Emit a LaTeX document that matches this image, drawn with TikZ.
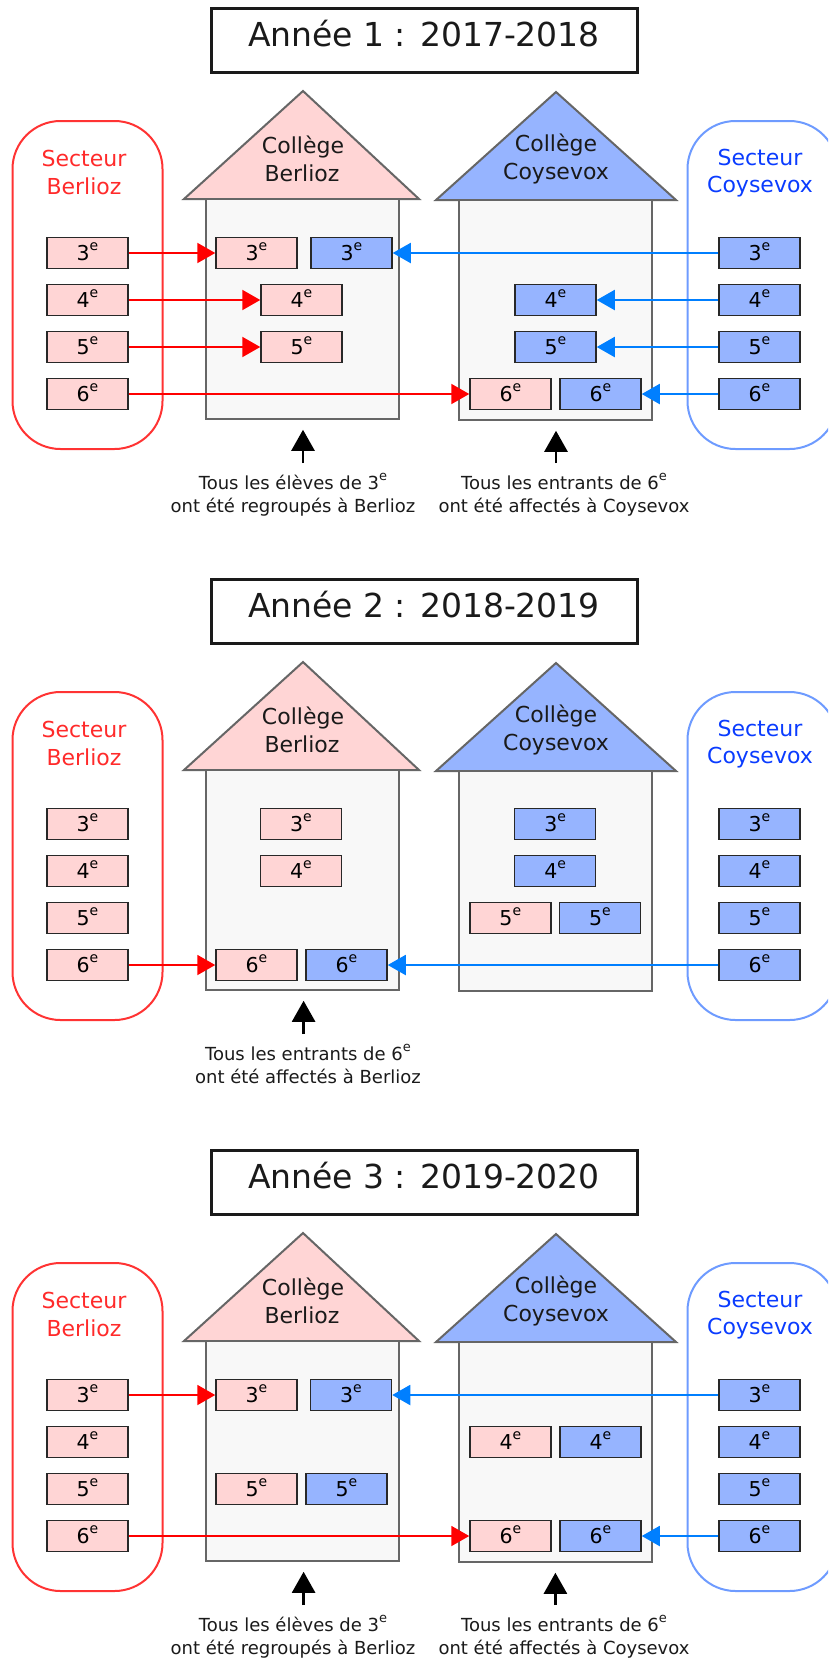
\documentclass[tikz,border=0pt]{standalone}
\usepackage{fontspec}
\setmainfont{DejaVu Sans}
\usetikzlibrary{arrows.meta}
\definecolor{pinkfill}{RGB}{255,213,213}
\definecolor{bluefill}{RGB}{150,180,255}
\definecolor{redline}{RGB}{255,0,0}
\definecolor{redsec}{RGB}{255,51,51}
\definecolor{redtxt}{RGB}{255,42,42}
\definecolor{blueline}{RGB}{0,127,255}
\definecolor{bluesec}{RGB}{110,155,255}
\definecolor{bluetxt}{RGB}{10,60,255}
\definecolor{bodyfill}{RGB}{248,248,248}
\definecolor{graystroke}{RGB}{102,102,102}
\definecolor{darkstroke}{RGB}{40,40,40}
\definecolor{txtdark}{RGB}{26,26,26}
\newcommand{\myE}{\raisebox{9.5pt}{\fontsize{14}{14}\selectfont e}}
\newcommand{\myEs}{\raisebox{8.5pt}{\fontsize{13}{13}\selectfont e}}
\tikzset{
 titlebox/.style={draw=txtdark, line width=3pt, minimum width=426pt, minimum height=64pt, inner sep=0pt, font=\fontsize{33}{39}\selectfont, text=txtdark, text height=20.5pt, text depth=7.1pt},
 secR/.style={draw=redsec, line width=2pt, rounded corners=48pt, minimum width=150pt, minimum height=328pt, inner sep=0pt},
 secB/.style={secR, draw=bluesec},
 sectxt/.style={anchor=base, inner sep=0pt, font=\fontsize{22}{26}\selectfont},
 roof/.style={draw=graystroke, line width=2pt, line join=miter},
 body/.style={draw=graystroke, fill=bodyfill, line width=1.5pt, minimum width=193pt, minimum height=220pt, inner sep=0pt},
 cls/.style={draw=darkstroke, line width=1.5pt, minimum width=81pt, minimum height=31pt, inner sep=0pt, font=\fontsize{20.5}{24}\selectfont, text=black, text height=15pt, text depth=1pt},
 pk/.style={cls, fill=pinkfill},
 bl/.style={cls, fill=bluefill},
 rarr/.style={draw=redline, line width=2pt, -{Triangle[length=18pt,width=20pt]}},
 barr/.style={draw=blueline, line width=2pt, -{Triangle[length=18pt,width=20pt]}},
 uarr/.style={draw=black, line width=2.5pt, -{Triangle[length=21pt,width=23pt]}, shorten >=10pt},
 note/.style={anchor=base, inner sep=0pt, font=\fontsize{18}{22}\selectfont, text=txtdark}
}
\newcommand{\basepanel}[2]{%
 \node[titlebox] (title#1) at (424,40) {#2};
 \node[secR] (sb#1) at (87.5,285) {};
 \node[sectxt, text=redtxt] (sbt#1a) at (84,166.7) {Secteur};
 \node[sectxt, text=redtxt] (sbt#1b) at (84,194.4) {Berlioz};
 \node[secB] (sc#1) at (762.5,285) {};
 \node[sectxt, text=bluetxt] (sct#1a) at (760,165) {Secteur};
 \node[sectxt, text=bluetxt] (sct#1b) at (760,192.7) {Coysevox};
 \draw[roof, fill=pinkfill] (184,199) -- (303,91) -- (419,199) -- cycle;
 \node[body] (hb#1) at (302.5,309) {};
 \draw[roof, fill=bluefill] (436,200) -- (556,92) -- (676,200) -- cycle;
 \node[body] (hc#1) at (555.5,310) {};
 \node[sectxt, text=txtdark] (cb#1a) at (303,153.3) {Collège};
 \node[sectxt, text=txtdark] (cb#1b) at (302,181) {Berlioz};
 \node[sectxt, text=txtdark] (cc#1a) at (556,151.7) {Collège};
 \node[sectxt, text=txtdark] (cc#1b) at (556,179.3) {Coysevox};
 \node[pk] (L#1r3) at (87.5,253) {3\myE};
 \node[pk] (L#1r4) at (87.5,300) {4\myE};
 \node[pk] (L#1r5) at (87.5,347) {5\myE};
 \node[pk] (L#1r6) at (87.5,394) {6\myE};
 \node[bl] (R#1r3) at (759.5,253) {3\myE};
 \node[bl] (R#1r4) at (759.5,300) {4\myE};
 \node[bl] (R#1r5) at (759.5,347) {5\myE};
 \node[bl] (R#1r6) at (759.5,394) {6\myE};
}
\begin{document}
\begin{tikzpicture}[x=1pt,y=-1pt]
\clip (0,0) rectangle (828,1658);
% ---------- Panel 1
\begin{scope}
\basepanel{1}{Année 1 : 2017-2018}
\node[pk] (B1p3) at (256.5,253) {3\myE};
\node[bl] (B1b3) at (351.5,253) {3\myE};
\node[pk] (B1p4) at (301.5,300) {4\myE};
\node[pk] (B1p5) at (301.5,347) {5\myE};
\node[bl] (C1b4) at (555.5,300) {4\myE};
\node[bl] (C1b5) at (555.5,347) {5\myE};
\node[pk] (C1p6) at (510.5,394) {6\myE};
\node[bl] (C1b6) at (600.5,394) {6\myE};
\draw[rarr] (L1r3.east) -- (B1p3.west);
\draw[rarr] (L1r4.east) -- (B1p4.west);
\draw[rarr] (L1r5.east) -- (B1p5.west);
\draw[rarr] (L1r6.east) -- (C1p6.west);
\draw[barr] (R1r3.west) -- (B1b3.east);
\draw[barr] (R1r4.west) -- (C1b4.east);
\draw[barr] (R1r5.west) -- (C1b5.east);
\draw[barr] (R1r6.west) -- (C1b6.east);
\coordinate (ua1) at (303,463);
\draw[uarr] (ua1) -- (ua1 |- hb1.south);
\node[note] (n1a) at (293,489) {Tous les élèves de 3\myEs};
\node[note] (n1b) at (293,512) {ont été regroupés à Berlioz};
\coordinate (ub1) at (556,463);
\draw[uarr] (ub1) -- (ub1 |- hc1.south);
\node[note] (n1c) at (564,489) {Tous les entrants de 6\myEs};
\node[note] (n1d) at (564,512) {ont été affectés à Coysevox};
\end{scope}
% ---------- Panel 2
\begin{scope}[yshift=-571pt]
\basepanel{2}{Année 2 : 2018-2019}
\node[pk] (B2p3) at (301,253) {3\myE};
\node[pk] (B2p4) at (301,300) {4\myE};
\node[pk] (B2p6) at (256.5,394) {6\myE};
\node[bl] (B2b6) at (346.5,394) {6\myE};
\node[bl] (C2b3) at (555.2,253) {3\myE};
\node[bl] (C2b4) at (555.2,300) {4\myE};
\node[pk] (C2p5) at (510.3,347) {5\myE};
\node[bl] (C2b5) at (600,347) {5\myE};
\draw[rarr] (L2r6.east) -- (B2p6.west);
\draw[barr] (R2r6.west) -- (B2b6.east);
\coordinate (ua2) at (303.6,463);
\draw[uarr] (ua2) -- (ua2 |- hb2.south);
\node[note] (n2a) at (308,489) {Tous les entrants de 6\myEs};
\node[note] (n2b) at (308,512) {ont été affectés à Berlioz};
\end{scope}
% ---------- Panel 3
\begin{scope}[yshift=-1142pt]
\basepanel{3}{Année 3 : 2019-2020}
\node[pk] (B3p3) at (256.5,253) {3\myE};
\node[bl] (B3b3) at (351,253) {3\myE};
\node[pk] (B3p5) at (256.5,347) {5\myE};
\node[bl] (B3b5) at (346.5,347) {5\myE};
\node[pk] (C3p4) at (510.5,300) {4\myE};
\node[bl] (C3b4) at (600.5,300) {4\myE};
\node[pk] (C3p6) at (510.5,394) {6\myE};
\node[bl] (C3b6) at (600.5,394) {6\myE};
\draw[rarr] (L3r3.east) -- (B3p3.west);
\draw[rarr] (L3r6.east) -- (C3p6.west);
\draw[barr] (R3r3.west) -- (B3b3.east);
\draw[barr] (R3r6.west) -- (C3b6.east);
\coordinate (ua3) at (303.6,463);
\draw[uarr] (ua3) -- (ua3 |- hb3.south);
\node[note] (n3a) at (293,489) {Tous les élèves de 3\myEs};
\node[note] (n3b) at (293,512) {ont été regroupés à Berlioz};
\coordinate (ub3) at (555.4,463);
\draw[uarr] (ub3) -- (ub3 |- hc3.south);
\node[note] (n3c) at (564,489) {Tous les entrants de 6\myEs};
\node[note] (n3d) at (564,512) {ont été affectés à Coysevox};
\end{scope}
\end{tikzpicture}
\end{document}
